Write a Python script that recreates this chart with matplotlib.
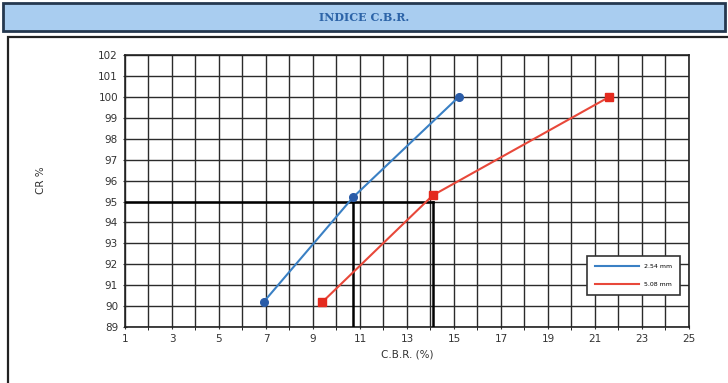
import matplotlib.pyplot as plt
from matplotlib.patches import Rectangle

cbr_blue = [6.9, 10.7, 15.2]
cr_blue = [90.2, 95.2, 100.0]
cbr_red = [9.4, 14.1, 21.6]
cr_red = [90.2, 95.3, 100.0]
label_blue = "2.54 mm"
label_red = "5.08 mm"
cr_ref = 95
cbr_ref = [10.7, 14.1]
x_ticks = list(range(1, 26, 2))
y_ticks = list(range(89, 103))

fig = plt.figure(figsize=(7.28, 3.83), dpi=100)

# title bar and frame
fig.patches.append(Rectangle((0.004, 0.918), 0.992, 0.074, transform=fig.transFigure,
                             facecolor="#a9cdf0", edgecolor="#25384f", lw=2))
fig.text(0.5, 0.955, "INDICE C.B.R.", ha="center", va="center", fontsize=8,
         family="DejaVu Serif", weight="bold", color="#2d64a8")
fig.patches.append(Rectangle((0.011, -0.01), 1.0, 0.913, transform=fig.transFigure,
                             facecolor="none", edgecolor="#222222", lw=1.6))

ax = fig.add_axes([0.1717, 0.146, 0.7747, 0.71])
ax.set_xlim(1, 25)
ax.set_ylim(89, 102)
ax.set_xticks(range(1, 26), minor=True)
ax.set_xticks(x_ticks)
ax.set_yticks(y_ticks)
ax.grid(True, which="both", color="#2b2b2b", lw=1.0)
ax.set_axisbelow(True)
ax.tick_params(labelsize=7.5, colors="#333333", length=3, direction="inout")
for s in ax.spines.values():
    s.set_color("#222222")
    s.set_linewidth(1.2)

# reference lines at 95 %
ax.plot([1, max(cbr_ref)], [cr_ref, cr_ref], color="black", lw=1.8, zorder=3)
for x in cbr_ref:
    ax.plot([x, x], [89, cr_ref], color="black", lw=1.8, zorder=3)

ax.plot(cbr_blue, cr_blue, color="#3a80c4", lw=1.5, label=label_blue, zorder=4)
ax.plot(cbr_blue, cr_blue, "o", color="#2a5ca8", ms=5.5, zorder=5)
ax.plot(cbr_red, cr_red, color="#e8483a", lw=1.5, label=label_red, zorder=4)
ax.plot(cbr_red, cr_red, "s", color="#e42a1e", ms=5.5, zorder=5)

leg = ax.legend(loc="lower right", bbox_to_anchor=(0.99, 0.105), fontsize=4.5,
                frameon=True, fancybox=False, handlelength=7, labelspacing=2.0,
                borderpad=1.3)
leg.get_frame().set_edgecolor("#333333")
leg.get_frame().set_linewidth(1.2)
leg.get_frame().set_facecolor("white")
leg.get_frame().set_alpha(1)

ax.set_xlabel("C.B.R. (%)", fontsize=7.5, color="#333333", labelpad=4)
fig.text(0.057, 0.53, "CR %", rotation=90, ha="center", va="center",
         fontsize=7.5, color="#333333")

fig.savefig("out.png", dpi=100)
